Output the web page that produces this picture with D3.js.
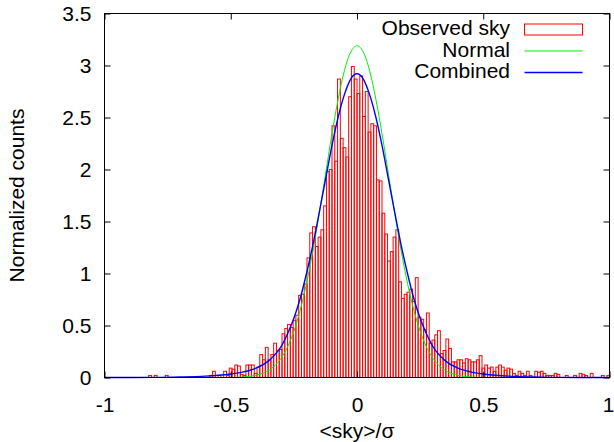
<!DOCTYPE html>
<html>
<head>
<meta charset="utf-8">
<script src="https://cdn.jsdelivr.net/npm/d3@7"></script>
<style>
  body { margin: 0; background: #fff; }
  text { font-family: "Liberation Sans", Arial, Helvetica, sans-serif; fill: #000; }
</style>
</head>
<body>
<svg id="chart" width="614" height="442"></svg>
<script>
// Histogram of the observed sky, bins of width 0.011 starting at bin index -75
const binWidth = 0.011;
const firstBin = -75;
const observed = [
  0.02, 0, 0.02, 0, 0, 0, 0.02, 0, 0, 0,
  0, 0, 0, 0, 0, 0, 0, 0, 0, 0,
  0, 0, 0.02, 0.06, 0, 0.02, 0, 0.06, 0.02, 0.09,
  0.08, 0.12, 0.11, 0.03, 0.02, 0.12, 0.12, 0.12, 0.04, 0.10,
  0.22, 0.17, 0.29, 0.17, 0.22, 0.33, 0.26, 0.27, 0.42, 0.47,
  0.51, 0.48, 0.55, 0.60, 0.79, 0.80, 0.90, 1.15, 1.39, 1.45,
  1.26, 1.35, 1.42, 1.65, 1.98, 2.00, 2.42, 2.08, 2.87, 2.30,
  2.21, 2.12, 2.70, 2.99, 2.87, 2.73, 2.90, 2.51, 2.75, 2.36,
  2.44, 2.42, 1.90, 1.89, 1.58, 1.38, 1.12, 1.21, 1.35, 1.42,
  0.92, 0.76, 0.80, 0.82, 0.85, 0.73, 0.96, 0.58, 0.56, 0.46,
  0.62, 0.33, 0.36, 0.41, 0.45, 0.23, 0.26, 0.37, 0.28, 0.15,
  0.15, 0.17, 0.17, 0.14, 0.18, 0.17, 0.15, 0.15, 0.17, 0.21,
  0.09, 0.12, 0.09, 0.10, 0.06, 0.10, 0.12, 0.10, 0.07, 0.09,
  0.08, 0.04, 0.02, 0.06, 0.04, 0.02, 0.06, 0.02, 0, 0.06,
  0.05, 0.06, 0.04, 0.02, 0.02, 0.02, 0.04, 0.03, 0, 0,
  0.02, 0, 0, 0.02, 0, 0.04, 0.03, 0.02, 0, 0.04,
  0, 0, 0, 0.02, 0, 0.02
];

// Normal curve
const normalX = [-1, -0.6, -0.5, -0.45, -0.4, -0.375, -0.35, -0.325, -0.3, -0.275, -0.25, -0.225, -0.2, -0.175, -0.15, -0.125, -0.1, -0.075, -0.05, -0.025,
  0, 0.025, 0.05, 0.075, 0.1, 0.125, 0.15, 0.175, 0.2, 0.225, 0.25, 0.275, 0.3, 0.325, 0.35, 0.375, 0.4, 0.45, 0.5, 0.6, 1];
const normalY = [0, 0, 0.001, 0.005, 0.021, 0.038, 0.067, 0.115, 0.187, 0.295, 0.445, 0.648, 0.905, 1.215, 1.57, 1.95, 2.33, 2.672, 2.95, 3.128,
  3.19, 3.128, 2.95, 2.672, 2.33, 1.95, 1.57, 1.215, 0.905, 0.648, 0.445, 0.295, 0.187, 0.115, 0.067, 0.038, 0.021, 0.005, 0.001, 0, 0];

// Combined curve
const combinedX = [-1, -0.8, -0.7, -0.6, -0.55, -0.5, -0.45, -0.4, -0.35, -0.325, -0.3, -0.275, -0.25, -0.225, -0.2, -0.175, -0.15, -0.125, -0.1, -0.075, -0.05, -0.025,
  0, 0.025, 0.05, 0.075, 0.1, 0.125, 0.15, 0.175, 0.2, 0.225, 0.25, 0.275, 0.3, 0.325, 0.35, 0.4, 0.45, 0.5, 0.55, 0.6, 0.7, 0.8, 1];
const combinedY = [0, 0.001, 0.005, 0.013, 0.021, 0.034, 0.054, 0.09, 0.16, 0.22, 0.30, 0.42, 0.57, 0.76, 1.0, 1.27, 1.58, 1.90, 2.22, 2.50, 2.72, 2.87,
  2.92, 2.87, 2.72, 2.50, 2.22, 1.90, 1.58, 1.27, 1.0, 0.76, 0.57, 0.42, 0.30, 0.22, 0.16, 0.09, 0.054, 0.034, 0.021, 0.013, 0.005, 0.001, 0];

const xTicks = [-1, -0.5, 0, 0.5, 1];
const yTicks = [0, 0.5, 1, 1.5, 2, 2.5, 3, 3.5];
const legendLabels = ["Observed sky", "Normal", "Combined"];
const xTitle = "<sky>/σ";
const yTitle = "Normalized counts";

const svg = d3.select("#chart");
const W = 614, H = 442;
const plot = { left: 104.5, right: 609.5, top: 13.5, bottom: 377.5 };
const fontSize = 21;

const x = d3.scaleLinear().domain([-1, 1]).range([plot.left, plot.right]);
const y = d3.scaleLinear().domain([0, 3.5]).range([plot.bottom, plot.top]);

svg.append("rect").attr("width", W).attr("height", H).attr("fill", "#fff");

// Histogram boxes (outlined)
const bins = observed.map((v, i) => ({ lo: (firstBin + i) * binWidth, v }));
svg.append("g")
  .selectAll("rect")
  .data(bins.filter(d => d.v > 0))
  .join("rect")
  .attr("x", d => x(d.lo))
  .attr("width", d => x(d.lo + binWidth) - x(d.lo))
  .attr("y", d => y(d.v))
  .attr("height", d => y(0) - y(d.v))
  .attr("fill", "none")
  .attr("stroke", "#ff0000")
  .attr("stroke-width", 1);

// Curves
const line = d3.line().curve(d3.curveMonotoneX);
svg.append("path")
  .attr("d", line(normalX.map((v, i) => [x(v), y(normalY[i])])))
  .attr("fill", "none").attr("stroke", "#00ee00").attr("stroke-width", 1);
svg.append("path")
  .attr("d", line(combinedX.map((v, i) => [x(v), y(combinedY[i])])))
  .attr("fill", "none").attr("stroke", "#0000ff").attr("stroke-width", 1.4);

// Axes with inward ticks, mirrored on top and right
const tick = 6;
const gx = svg.append("g").attr("transform", `translate(0,${plot.bottom})`)
  .call(d3.axisBottom(x).tickValues(xTicks).tickSizeInner(-tick).tickSizeOuter(0).tickPadding(20)
    .tickFormat(d => d3.format("")(d)));
const gy = svg.append("g").attr("transform", `translate(${plot.left},0)`)
  .call(d3.axisLeft(y).tickValues(yTicks).tickSizeInner(-tick).tickSizeOuter(0).tickPadding(13)
    .tickFormat(d => d3.format("")(d)));
svg.append("g").attr("transform", `translate(0,${plot.top})`)
  .call(d3.axisTop(x).tickValues(xTicks).tickSizeInner(-tick).tickSizeOuter(0).tickFormat(""));
svg.append("g").attr("transform", `translate(${plot.right},0)`)
  .call(d3.axisRight(y).tickValues(yTicks).tickSizeInner(-tick).tickSizeOuter(0).tickFormat(""));

svg.selectAll(".domain").remove();
svg.selectAll(".tick line").attr("stroke", "#000");
svg.selectAll(".tick text")
  .attr("font-size", fontSize)
  .attr("font-family", "Liberation Sans, Arial, sans-serif");
gx.selectAll(".tick text").text(d => d === -1 ? "-1" : d === -0.5 ? "-0.5" : d3.format("")(d));
// keep the last x label inside the page
gx.selectAll(".tick text").filter(d => d === 1).attr("text-anchor", "end").attr("dx", 4.5);

// Frame
svg.append("rect")
  .attr("x", plot.left).attr("y", plot.top)
  .attr("width", plot.right - plot.left).attr("height", plot.bottom - plot.top)
  .attr("fill", "none").attr("stroke", "#000").attr("stroke-width", 1);

// Axis titles
svg.append("text")
  .attr("x", (plot.left + plot.right) / 2).attr("y", 432)
  .attr("text-anchor", "middle").attr("dominant-baseline", "middle")
  .attr("font-size", fontSize)
  .text(xTitle);
svg.append("text")
  .attr("transform", `translate(18,${(plot.top + plot.bottom) / 2}) rotate(-90)`)
  .attr("text-anchor", "middle").attr("dominant-baseline", "middle")
  .attr("font-size", fontSize)
  .text(yTitle);

// Legend
const legend = svg.append("g");
const rows = [29.5, 51, 72.5];
const keyX0 = 524.5, keyX1 = 582.5;
legendLabels.forEach((label, i) => {
  legend.append("text")
    .attr("x", 510).attr("y", rows[i])
    .attr("text-anchor", "end").attr("dominant-baseline", "middle")
    .attr("font-size", fontSize)
    .text(label);
});
legend.append("rect")
  .attr("x", keyX0).attr("y", rows[0] - 5.5)
  .attr("width", keyX1 - keyX0).attr("height", 11)
  .attr("fill", "none").attr("stroke", "#ff0000").attr("stroke-width", 1);
legend.append("line")
  .attr("x1", keyX0).attr("x2", keyX1).attr("y1", rows[1]).attr("y2", rows[1])
  .attr("stroke", "#00ee00").attr("stroke-width", 1);
legend.append("line")
  .attr("x1", keyX0).attr("x2", keyX1).attr("y1", rows[2]).attr("y2", rows[2])
  .attr("stroke", "#0000ff").attr("stroke-width", 1.4);
</script>
</body>
</html>
